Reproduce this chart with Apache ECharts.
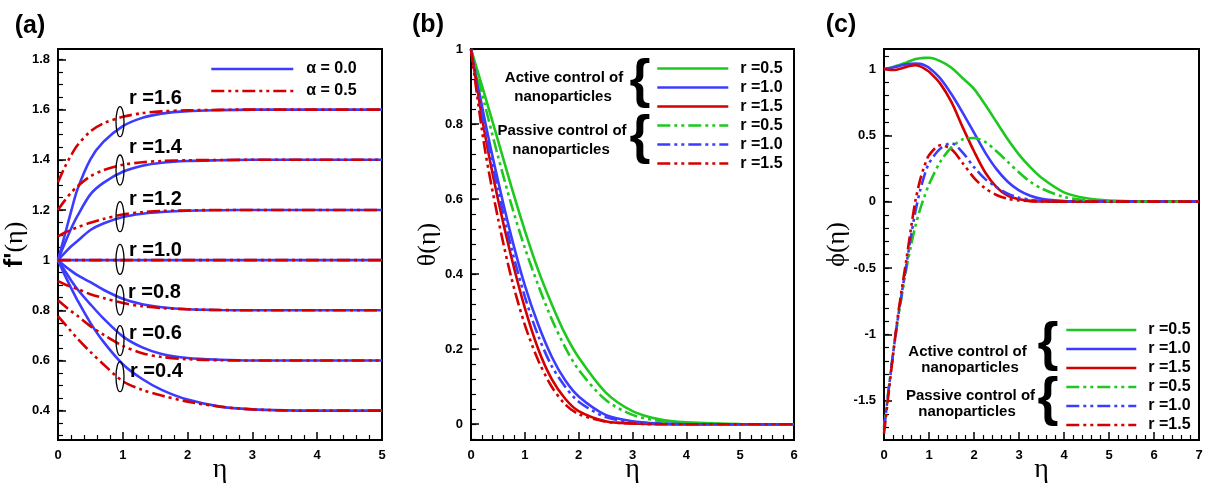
<!DOCTYPE html>
<html><head><meta charset="utf-8">
<script src="https://cdn.jsdelivr.net/npm/echarts@6/dist/echarts.min.js"></script>
<style>html,body{margin:0;padding:0;background:#fff}#c{width:1207px;height:483px}</style>
</head><body><div id="c"></div>
<script>
// ---------- Panel (a): f'(eta) ----------
const etaA = [0, 0.1, 0.2, 0.3, 0.5, 0.7, 1.0, 1.3, 1.6, 2.0, 2.5, 3.0, 3.5, 4.0, 5.0];
const a0_r16 = [1.0, 1.096, 1.192, 1.282, 1.402, 1.471, 1.534, 1.567, 1.584, 1.594, 1.598, 1.6, 1.6, 1.6, 1.6];
const a0_r14 = [1.0, 1.064, 1.124, 1.176, 1.262, 1.308, 1.352, 1.376, 1.388, 1.395, 1.398, 1.4, 1.4, 1.4, 1.4];
const a0_r12 = [1.0, 1.028, 1.054, 1.076, 1.120, 1.146, 1.172, 1.185, 1.192, 1.197, 1.199, 1.2, 1.2, 1.2, 1.2];
const a0_r10 = [1, 1, 1, 1, 1, 1, 1, 1, 1, 1, 1, 1, 1, 1, 1];
const a0_r08 = [1.0, 0.978, 0.958, 0.940, 0.912, 0.882, 0.846, 0.824, 0.812, 0.804, 0.801, 0.8, 0.8, 0.8, 0.8];
const a0_r06 = [1.0, 0.96, 0.92, 0.884, 0.824, 0.768, 0.696, 0.652, 0.626, 0.610, 0.603, 0.6, 0.6, 0.6, 0.6];
const a0_r04 = [1.0, 0.943, 0.89, 0.84, 0.75, 0.675, 0.585, 0.526, 0.483, 0.444, 0.416, 0.405, 0.401, 0.4, 0.4];
const a5_r16 = [1.31, 1.368, 1.417, 1.458, 1.513, 1.545, 1.571, 1.586, 1.593, 1.597, 1.599, 1.6, 1.6, 1.6, 1.6];
const a5_r14 = [1.2, 1.236, 1.268, 1.294, 1.334, 1.358, 1.38, 1.39, 1.395, 1.398, 1.399, 1.4, 1.4, 1.4, 1.4];
const a5_r12 = [1.095, 1.109, 1.120, 1.131, 1.149, 1.164, 1.182, 1.191, 1.196, 1.198, 1.2, 1.2, 1.2, 1.2, 1.2];
const a5_r10 = [1, 1, 1, 1, 1, 1, 1, 1, 1, 1, 1, 1, 1, 1, 1];
const a5_r08 = [0.916, 0.904, 0.894, 0.885, 0.864, 0.849, 0.829, 0.816, 0.809, 0.804, 0.801, 0.8, 0.8, 0.8, 0.8];
const a5_r06 = [0.84, 0.818, 0.797, 0.778, 0.737, 0.703, 0.658, 0.629, 0.614, 0.605, 0.601, 0.6, 0.6, 0.6, 0.6];
const a5_r04 = [0.777, 0.747, 0.717, 0.687, 0.634, 0.585, 0.517, 0.483, 0.46, 0.436, 0.416, 0.405, 0.401, 0.4, 0.4];
const aYTicks = [0.4, 0.6, 0.8, 1, 1.2, 1.4, 1.6, 1.8];
const aYMinor = [0.3, 0.35, 0.4, 0.45, 0.5, 0.55, 0.6, 0.65, 0.7, 0.75, 0.8, 0.85, 0.9, 0.95, 1, 1.05, 1.1, 1.15, 1.2, 1.25, 1.3, 1.35, 1.4, 1.45, 1.5, 1.55, 1.6, 1.65, 1.7, 1.75, 1.8];
const rLabelsA = ['r =1.6', 'r =1.4', 'r =1.2', 'r =1.0', 'r =0.8', 'r =0.6', 'r =0.4'];
const alphaNames = ['\u03b1 = 0.0', '\u03b1 = 0.5'];

// ---------- Panel (b): theta(eta) ----------
const etaB = [0, 0.25, 0.5, 0.75, 1.0, 1.25, 1.5, 1.75, 2.0, 2.5, 3.0, 3.5, 4.0, 5.0, 6.0];
const thAct05 = [1, 0.88, 0.757, 0.633, 0.516, 0.41, 0.32, 0.24, 0.178, 0.085, 0.035, 0.013, 0.005, 0.0005, 0];
const thAct10 = [1, 0.815, 0.65, 0.5, 0.37, 0.265, 0.18, 0.117, 0.074, 0.025, 0.008, 0.002, 0, 0, 0];
const thAct15 = [1, 0.78, 0.6, 0.445, 0.31, 0.2, 0.12, 0.068, 0.035, 0.008, 0.002, 0, 0, 0, 0];
const thPas05 = [1, 0.855, 0.715, 0.585, 0.47, 0.37, 0.28, 0.205, 0.145, 0.065, 0.025, 0.009, 0.003, 0, 0];
const thPas10 = [1, 0.795, 0.625, 0.47, 0.34, 0.235, 0.155, 0.1, 0.06, 0.019, 0.006, 0.002, 0, 0, 0];
const thPas15 = [1, 0.74, 0.55, 0.39, 0.265, 0.17, 0.1, 0.053, 0.027, 0.007, 0.002, 0, 0, 0, 0];
const bYTicks = [0, 0.2, 0.4, 0.6, 0.8, 1];
const bYMinor = [-0.04, 0, 0.04, 0.08, 0.12, 0.16, 0.2, 0.24, 0.28, 0.32, 0.36, 0.4, 0.44, 0.48, 0.52, 0.56, 0.6, 0.64, 0.68, 0.72, 0.76, 0.8, 0.84, 0.88, 0.92, 0.96, 1];

// ---------- Panel (c): phi(eta) ----------
const etaC = [0, 0.1, 0.2, 0.3, 0.4, 0.5, 0.6, 0.7, 0.8, 0.9, 1.0, 1.25, 1.5, 1.75, 2.0, 2.25, 2.5, 2.75, 3.0, 3.25, 3.5, 4.0, 4.5, 5.0, 6.0, 7.0];
const phAct05 = [1.0, 1.006, 1.015, 1.026, 1.038, 1.05, 1.063, 1.075, 1.081, 1.084, 1.085, 1.06, 1.01, 0.93, 0.85, 0.73, 0.6, 0.47, 0.355, 0.26, 0.18, 0.07, 0.025, 0.008, 0, 0];
const phAct10 = [1.0, 1.005, 1.012, 1.02, 1.028, 1.035, 1.04, 1.042, 1.039, 1.028, 1.01, 0.93, 0.81, 0.67, 0.52, 0.37, 0.245, 0.15, 0.085, 0.045, 0.022, 0.005, 0.001, 0, 0, 0];
const phAct15 = [1.0, 0.995, 0.993, 0.997, 1.006, 1.016, 1.025, 1.028, 1.02, 1.003, 0.98, 0.89, 0.75, 0.56, 0.38, 0.22, 0.11, 0.045, 0.018, 0.006, 0.002, 0, 0, 0, 0, 0];
const phPas05 = [-1.7, -1.42, -1.15, -0.91, -0.7, -0.5, -0.33, -0.18, -0.06, 0.04, 0.13, 0.3, 0.41, 0.47, 0.48, 0.45, 0.38, 0.3, 0.22, 0.15, 0.1, 0.035, 0.01, 0.003, 0, 0];
const phPas10 = [-1.72, -1.43, -1.15, -0.9, -0.68, -0.47, -0.26, -0.07, 0.08, 0.2, 0.29, 0.4, 0.44, 0.37, 0.26, 0.17, 0.11, 0.06, 0.03, 0.014, 0.006, 0.001, 0, 0, 0, 0];
const phPas15 = [-1.75, -1.45, -1.16, -0.88, -0.65, -0.43, -0.2, 0.01, 0.16, 0.27, 0.35, 0.425, 0.395, 0.29, 0.18, 0.1, 0.05, 0.022, 0.009, 0.004, 0.001, 0, 0, 0, 0, 0];
const cYTicks = [-1.5, -1, -0.5, 0, 0.5, 1];
const cYMinor = [-1.8, -1.7, -1.6, -1.5, -1.4, -1.3, -1.2, -1.1, -1, -0.9, -0.8, -0.7, -0.6, -0.5, -0.4, -0.3, -0.2, -0.1, 0, 0.1, 0.2, 0.3, 0.4, 0.5, 0.6, 0.7, 0.8, 0.9, 1, 1.1];
const rNamesBC = ['r =0.5', 'r =1.0', 'r =1.5'];
const ctrlText = ['Active control of', 'nanoparticles', 'Passive control of', 'nanoparticles'];
const panelLabels = ['(a)', '(b)', '(c)'];

// ---------- styles ----------
const BLUE = '#3c3cff', RED = '#d40000', GREEN = '#1ec81e';
const DASH = [13, 4, 3, 4, 3, 4];
const SANS = '"Liberation Sans", Arial, sans-serif';
const SERIF = '"Liberation Serif", "Times New Roman", serif';

function pairs(xs, ys) { return xs.map((x, i) => [x, ys[i]]); }
function line(name, gi, xs, ys, color, dashed) {
  return {
    name: name, type: 'line', xAxisIndex: gi, yAxisIndex: gi * 2,
    data: pairs(xs, ys), symbol: 'none', showSymbol: false, smooth: 0.3,
    lineStyle: { color: color, width: 2.6, type: dashed ? DASH : 'solid', cap: 'butt' },
    itemStyle: { color: color }, emphasis: { disabled: true }, clip: true, z: dashed ? 3 : 2
  };
}

const grids = [
  { left: 58, top: 49, width: 324, height: 391 },
  { left: 471, top: 49, width: 323, height: 391 },
  { left: 884, top: 49, width: 315, height: 391 }
].map(g => Object.assign(g, { show: true, borderColor: '#000', borderWidth: 2, backgroundColor: 'transparent',
  containLabel: false, outerBoundsMode: 'none' }));

const labelStyle = { color: '#000', fontWeight: 'bold', fontSize: 13, fontFamily: SANS };
function xAxis(gi, max) {
  return {
    gridIndex: gi, type: 'value', min: 0, max: max, interval: 1,
    axisLine: { show: true, onZero: false, lineStyle: { color: '#000', width: 2 } },
    axisTick: { show: true, inside: true, length: 8, lineStyle: { color: '#000', width: 1.5 } },
    minorTick: { show: true, splitNumber: 5, length: 5, lineStyle: { color: '#000', width: 1.2 } },
    splitLine: { show: false }, minorSplitLine: { show: false },
    axisLabel: Object.assign({ margin: 9, showMinLabel: true, showMaxLabel: true }, labelStyle),
    name: '\u03b7', nameLocation: 'middle', nameGap: 16, nameMoveOverlap: false,
    nameTextStyle: { fontFamily: SERIF, fontSize: 28, color: '#000' }
  };
}
function yMajor(gi, min, max, ticks, name, nameGap, rich) {
  return {
    gridIndex: gi, type: 'value', min: min, max: max, position: 'left',
    axisLine: { show: true, onZero: false, lineStyle: { color: '#000', width: 2 } },
    axisTick: { show: true, inside: true, length: 8, customValues: ticks, lineStyle: { color: '#000', width: 1.5 } },
    splitLine: { show: false },
    axisLabel: Object.assign({ margin: 8, customValues: ticks, showMinLabel: true, showMaxLabel: true }, labelStyle),
    name: name, nameLocation: 'middle', nameRotate: 90, nameGap: nameGap,
    nameTextStyle: { fontFamily: SERIF, fontSize: 26, color: '#000', rich: rich }
  };
}
function yMinor(gi, min, max, ticks) {
  return {
    gridIndex: gi, type: 'value', min: min, max: max, position: 'left',
    axisLine: { show: false }, splitLine: { show: false }, axisLabel: { show: false },
    axisTick: { show: true, inside: true, length: 5, customValues: ticks, lineStyle: { color: '#000', width: 1.2 } }
  };
}

const series = [
  line(alphaNames[0], 0, etaA, a0_r16, BLUE, false),
  line(alphaNames[0], 0, etaA, a0_r14, BLUE, false),
  line(alphaNames[0], 0, etaA, a0_r12, BLUE, false),
  line(alphaNames[0], 0, etaA, a0_r10, BLUE, false),
  line(alphaNames[0], 0, etaA, a0_r08, BLUE, false),
  line(alphaNames[0], 0, etaA, a0_r06, BLUE, false),
  line(alphaNames[0], 0, etaA, a0_r04, BLUE, false),
  line(alphaNames[1], 0, etaA, a5_r16, RED, true),
  line(alphaNames[1], 0, etaA, a5_r14, RED, true),
  line(alphaNames[1], 0, etaA, a5_r12, RED, true),
  line(alphaNames[1], 0, etaA, a5_r10, RED, true),
  line(alphaNames[1], 0, etaA, a5_r08, RED, true),
  line(alphaNames[1], 0, etaA, a5_r06, RED, true),
  line(alphaNames[1], 0, etaA, a5_r04, RED, true),

  line('A|' + rNamesBC[0], 1, etaB, thAct05, GREEN, false),
  line('A|' + rNamesBC[1], 1, etaB, thAct10, BLUE, false),
  line('A|' + rNamesBC[2], 1, etaB, thAct15, RED, false),
  line('P|' + rNamesBC[0], 1, etaB, thPas05, GREEN, true),
  line('P|' + rNamesBC[1], 1, etaB, thPas10, BLUE, true),
  line('P|' + rNamesBC[2], 1, etaB, thPas15, RED, true),

  line('A|' + rNamesBC[0], 2, etaC, phAct05, GREEN, false),
  line('A|' + rNamesBC[1], 2, etaC, phAct10, BLUE, false),
  line('A|' + rNamesBC[2], 2, etaC, phAct15, RED, false),
  line('P|' + rNamesBC[0], 2, etaC, phPas05, GREEN, true),
  line('P|' + rNamesBC[1], 2, etaC, phPas10, BLUE, true),
  line('P|' + rNamesBC[2], 2, etaC, phPas15, RED, true)
];

const bcNames = ['A|' + rNamesBC[0], 'A|' + rNamesBC[1], 'A|' + rNamesBC[2], 'P|' + rNamesBC[0], 'P|' + rNamesBC[1], 'P|' + rNamesBC[2]];
function legend(left, top, w, gap, fs, data, fmt, pad) {
  return {
    show: true, orient: 'vertical', left: left, top: top, padding: 0, itemWidth: w, itemHeight: 14, itemGap: gap,
    data: data, formatter: fmt, selectedMode: false,
    textStyle: { fontSize: fs, lineHeight: fs, fontWeight: 'bold', fontFamily: SANS, color: '#000', padding: [0, 0, 0, pad] },
    lineStyle: { width: 2.6 }, itemStyle: { opacity: 0, borderWidth: 0 }
  };
}

// ---------- annotations ----------
const gfx = [];
const txt = (x, y, s, font, align) => ({ type: 'text', x: x, y: y, z: 50, silent: true,
  style: { text: s, font: font, fill: '#000', textAlign: align || 'left', textVerticalAlign: 'middle' } });
gfx.push(txt(30, 26, panelLabels[0], 'bold 25px ' + SANS, 'center'));
gfx.push(txt(428, 25, panelLabels[1], 'bold 25px ' + SANS, 'center'));
gfx.push(txt(841, 25, panelLabels[2], 'bold 25px ' + SANS, 'center'));
const rLabPos = [[129, 98], [129, 147], [129, 199], [129, 250], [128, 292], [129, 333], [130, 371]];
const ellY = [121.7, 170, 216.7, 259.4, 300, 340.6, 376.7];
rLabelsA.forEach((s, i) => {
  gfx.push(txt(rLabPos[i][0], rLabPos[i][1], s, 'bold 20px ' + SANS));
  gfx.push({ type: 'ellipse', z: 50, silent: true, shape: { cx: 120, cy: ellY[i], rx: 4, ry: 15 },
    style: { fill: 'none', stroke: '#000', lineWidth: 1.3 } });
});
// panel (b) legend annotations
const CT = 'bold 15px ' + SANS;
gfx.push(txt(564, 78, ctrlText[0], CT, 'center'));
gfx.push(txt(563, 97, ctrlText[1], CT, 'center'));
gfx.push(txt(562, 131, ctrlText[2], CT, 'center'));
gfx.push(txt(561, 150, ctrlText[3], CT, 'center'));
gfx.push(txt(640, 82.5, '{', 'bold 54px ' + SANS, 'center'));
gfx.push(txt(640, 138.5, '{', 'bold 54px ' + SANS, 'center'));
// panel (c)
gfx.push(txt(967.5, 352, ctrlText[0], CT, 'center'));
gfx.push(txt(970, 368, ctrlText[1], CT, 'center'));
gfx.push(txt(970.5, 396, ctrlText[2], CT, 'center'));
gfx.push(txt(967, 412, ctrlText[3], CT, 'center'));
gfx.push(txt(1048, 345, '{', 'bold 54px ' + SANS, 'center'));
gfx.push(txt(1048, 400, '{', 'bold 54px ' + SANS, 'center'));

const option = {
  animation: false,
  backgroundColor: '#fff',
  textStyle: { fontFamily: SANS },
  grid: grids,
  xAxis: [xAxis(0, 5), xAxis(1, 6), xAxis(2, 7)],
  yAxis: [
    yMajor(0, 0.283, 1.8415, aYTicks, "{f|f'}{g|(\u03b7)}", 18,
      { f: { fontFamily: SANS, fontWeight: 'bold', fontSize: 26, color: '#000' }, g: { fontFamily: SERIF, fontSize: 26, color: '#000' } }),
    yMinor(0, 0.283, 1.8415, aYMinor),
    yMajor(1, -0.042, 1, bYTicks, '\u03b8(\u03b7)', 16),
    yMinor(1, -0.042, 1, bYMinor),
    yMajor(2, -1.797, 1.151, cYTicks, '\u03d5(\u03b7)', 18),
    yMinor(2, -1.797, 1.151, cYMinor)
  ],
  legend: [
    legend(210, 61, 82, 6, 16, alphaNames, n => n, 8),
    legend(656, 60.5, 71, 3, 16, bcNames, n => n.split('|')[1], 7),
    legend(1065, 322, 70, 3, 16, bcNames, n => n.split('|')[1], 7)
  ],
  tooltip: { show: false },
  series: series,
  graphic: { elements: gfx }
};
const chart = echarts.init(document.getElementById('c'), null, { renderer: 'canvas' });
chart.setOption(option);
</script>
</body></html>
